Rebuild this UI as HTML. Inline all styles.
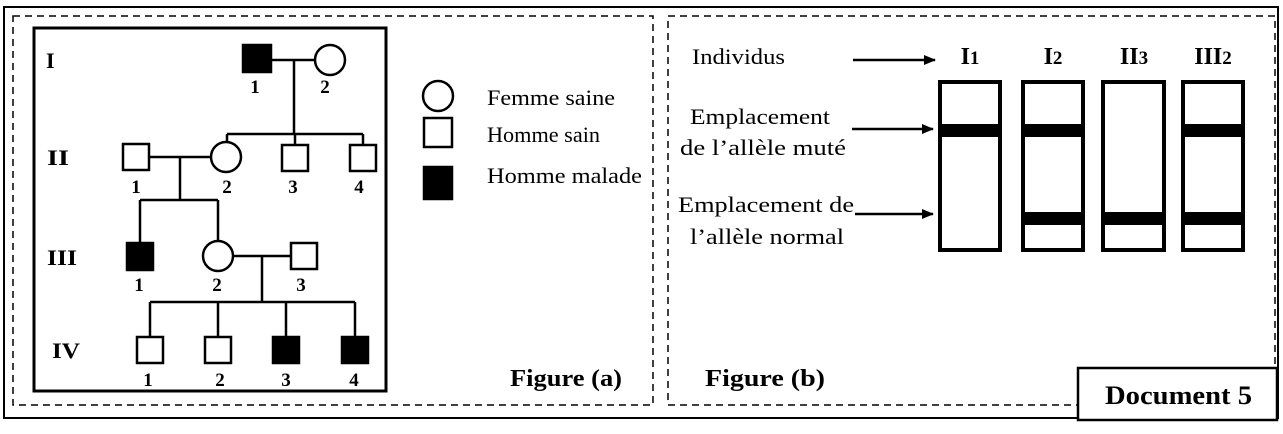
<!DOCTYPE html>
<html><head><meta charset="utf-8"><style>
html,body{margin:0;padding:0;background:#fff;}
svg{display:block;}
text{font-family:"Liberation Serif",serif;fill:#000;}
</style></head><body>
<svg width="1283" height="434" viewBox="0 0 1283 434" xmlns="http://www.w3.org/2000/svg">
<defs><marker id="ar" markerWidth="12" markerHeight="10" refX="11" refY="5" orient="auto" markerUnits="userSpaceOnUse"><path d="M0,0 L12,5 L0,10 Z" fill="#000"/></marker></defs>
<rect x="4" y="7" width="1274" height="411" fill="none" stroke="#000" stroke-width="2"/>
<rect x="13" y="16" width="640" height="389" fill="none" stroke="#000" stroke-width="1.5" stroke-dasharray="7,5"/>
<rect x="668" y="16" width="607" height="389" fill="none" stroke="#000" stroke-width="1.5" stroke-dasharray="7,5"/>
<rect x="34" y="28" width="352" height="363" fill="none" stroke="#000" stroke-width="3"/>
<g stroke="#000" stroke-width="2.5" fill="none">
<line x1="272" y1="60" x2="315" y2="60"/><line x1="294" y1="60" x2="294" y2="134"/>
<line x1="227" y1="134" x2="363" y2="134"/><line x1="227" y1="134" x2="227" y2="142"/>
<line x1="295" y1="134" x2="295" y2="145"/><line x1="363" y1="134" x2="363" y2="145"/>
<line x1="149" y1="157" x2="211" y2="157"/><line x1="180" y1="157" x2="180" y2="200"/>
<line x1="140" y1="200" x2="218" y2="200"/><line x1="140" y1="200" x2="140" y2="243"/><line x1="218" y1="200" x2="218" y2="241"/>
<line x1="233" y1="256" x2="291" y2="256"/><line x1="262" y1="256" x2="262" y2="302"/>
<line x1="150" y1="302" x2="355" y2="302"/>
<line x1="150" y1="302" x2="150" y2="337"/><line x1="218" y1="302" x2="218" y2="337"/><line x1="286" y1="302" x2="286" y2="337"/><line x1="355" y1="302" x2="355" y2="337"/>
<rect x="243" y="45" width="28" height="27" fill="#000"/>
<circle cx="330" cy="60" r="15"/>
<rect x="123" y="144" width="26" height="26"/>
<circle cx="226" cy="157" r="15"/>
<rect x="282" y="145" width="26" height="26"/>
<rect x="350" y="145" width="26" height="26"/>
<rect x="127" y="243" width="26" height="27" fill="#000"/>
<circle cx="218" cy="256" r="15"/>
<rect x="291" y="243" width="26" height="26"/>
<rect x="137" y="337" width="26" height="26"/>
<rect x="205" y="337" width="26" height="26"/>
<rect x="273" y="337" width="26" height="26" fill="#000"/>
<rect x="342" y="337" width="26" height="26" fill="#000"/>
<circle cx="438" cy="96" r="15"/>
<rect x="424" y="118" width="28" height="29"/>
<rect x="424" y="167" width="28" height="32" fill="#000"/>
</g>
<g font-weight="bold" font-size="22">
<text x="46" y="68">I</text>
<text x="47" y="165" textLength="22" lengthAdjust="spacingAndGlyphs">II</text>
<text x="47" y="265" textLength="30" lengthAdjust="spacingAndGlyphs">III</text>
<text x="52" y="358" textLength="28" lengthAdjust="spacingAndGlyphs">IV</text>
</g>
<g font-size="19" font-weight="bold" text-anchor="middle">
<text x="255" y="93">1</text><text x="325" y="93">2</text>
<text x="136" y="193">1</text><text x="227" y="193">2</text><text x="293" y="193">3</text><text x="359" y="193">4</text>
<text x="139" y="291">1</text><text x="217" y="291">2</text><text x="301" y="291">3</text>
<text x="148" y="386">1</text><text x="220" y="386">2</text><text x="286" y="386">3</text><text x="354" y="386">4</text>
</g>
<g font-size="22">
<text x="487" y="105" textLength="128" lengthAdjust="spacingAndGlyphs">Femme saine</text>
<text x="487" y="142" textLength="113" lengthAdjust="spacingAndGlyphs">Homme sain</text>
<text x="487" y="183" textLength="155" lengthAdjust="spacingAndGlyphs">Homme malade</text>
</g>
<text x="510" y="386" font-size="24" font-weight="bold" textLength="112" lengthAdjust="spacingAndGlyphs">Figure (a)</text>
<g font-size="22">
<text x="692" y="64" textLength="93" lengthAdjust="spacingAndGlyphs">Individus</text>
<text x="690" y="124" textLength="140" lengthAdjust="spacingAndGlyphs">Emplacement</text>
<text x="680" y="155" textLength="166" lengthAdjust="spacingAndGlyphs">de l’allèle muté</text>
<text x="678" y="212" textLength="176" lengthAdjust="spacingAndGlyphs">Emplacement de</text>
<text x="690" y="244" textLength="154" lengthAdjust="spacingAndGlyphs">l’allèle normal</text>
</g>
<g stroke="#000" stroke-width="2.5">
<line x1="853" y1="60" x2="935" y2="60" marker-end="url(#ar)"/>
<line x1="852" y1="129" x2="933" y2="129" marker-end="url(#ar)"/>
<line x1="855" y1="214" x2="933" y2="214" marker-end="url(#ar)"/>
</g>
<g font-size="24" font-weight="bold" text-anchor="middle">
<text x="970" y="64">I<tspan font-size="19">1</tspan></text>
<text x="1053" y="64">I<tspan font-size="19">2</tspan></text>
<text x="1134" y="64">II<tspan font-size="19">3</tspan></text>
<text x="1213" y="64">III<tspan font-size="19">2</tspan></text>
</g>
<g stroke="#000" stroke-width="4" fill="none">
<rect x="940" y="82" width="60" height="168"/>
<rect x="1023" y="82" width="60" height="168"/>
<rect x="1103" y="82" width="61" height="168"/>
<rect x="1183" y="82" width="60" height="168"/>
</g>
<g fill="#000">
<rect x="938" y="124" width="64" height="13"/>
<rect x="1021" y="124" width="64" height="13"/>
<rect x="1181" y="124" width="64" height="13"/>
<rect x="1021" y="212" width="64" height="13"/>
<rect x="1101" y="212" width="65" height="13"/>
<rect x="1181" y="212" width="64" height="13"/>
</g>
<text x="705" y="386" font-size="24" font-weight="bold" textLength="120" lengthAdjust="spacingAndGlyphs">Figure (b)</text>
<rect x="1078" y="368" width="199" height="52" fill="#fff" stroke="#000" stroke-width="2.5"/>
<text x="1105" y="404" font-size="26" font-weight="bold" textLength="147" lengthAdjust="spacingAndGlyphs">Document 5</text>
</svg>
</body></html>
